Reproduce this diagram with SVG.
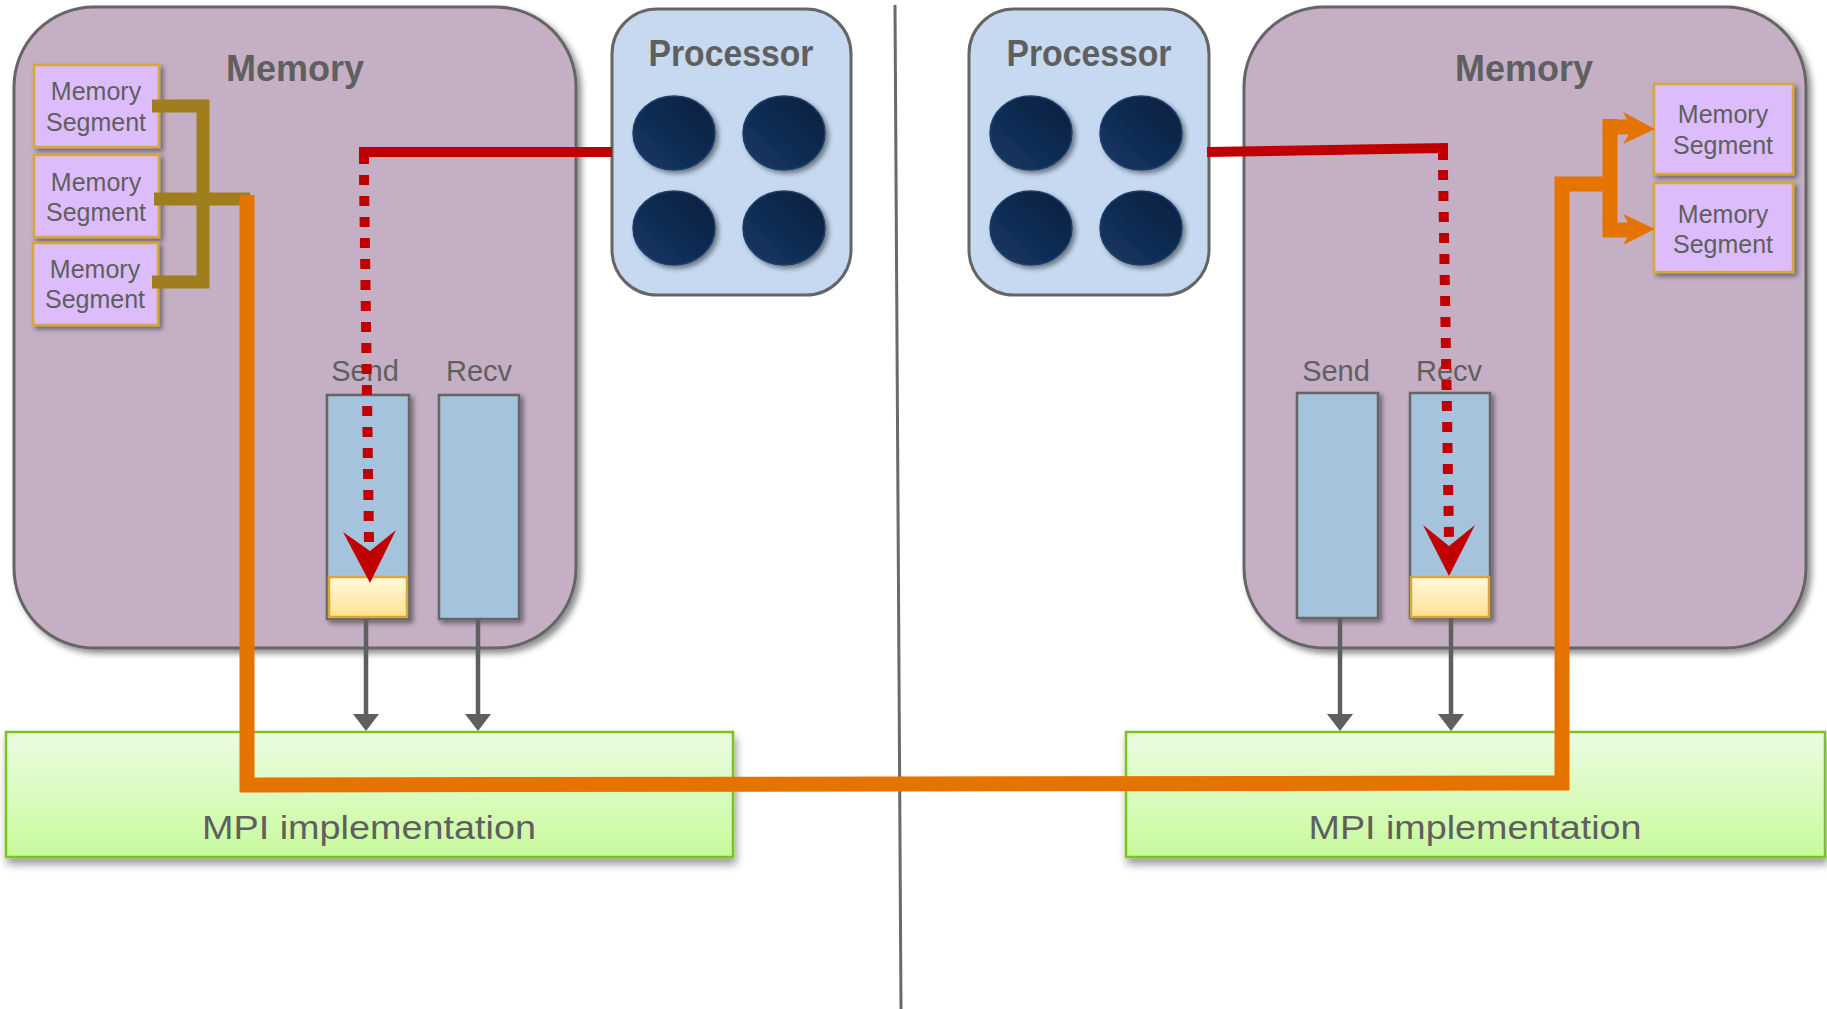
<svg xmlns="http://www.w3.org/2000/svg" width="1827" height="1009" viewBox="0 0 1827 1009">
<style>
.mem{fill:#c4afc4;stroke:#656565;stroke-width:3}
.proc{fill:#c6d9f0;stroke:#656565;stroke-width:3}
.seg{fill:#dcbcfb;stroke:#d6a838;stroke-width:2.5}
.buf{fill:#a6c3dd;stroke:#656565;stroke-width:2.5}
.yel{fill:url(#gy);stroke:#d6a838;stroke-width:2.5}
.mpi{fill:url(#gm);stroke:#7cc222;stroke-width:2.5}
.core{fill:url(#gc);stroke:#1e3e6c;stroke-width:1.5}
.t{font-family:"Liberation Sans",Arial,sans-serif;fill:#5f5f5f;text-anchor:middle}
.tb{font-family:"Liberation Sans",Arial,sans-serif;fill:#5f5f5f;text-anchor:middle;font-weight:bold;font-size:36px}
.ts{font-size:25px}
.tl{font-size:29px}
.tm{font-size:34px}
.gray{stroke:#5f5f5f;stroke-width:4.5;fill:none}
.grayhead{fill:#5f5f5f}
.red{stroke:#c00000;stroke-width:10;fill:none}
.reddot{stroke:#c00000;stroke-width:10;fill:none;stroke-dasharray:10 11}
.redhead{fill:#c00000}
.orange{stroke:#e57300;stroke-width:15;fill:none;stroke-linejoin:miter}
.orangehead{fill:#e57300}
.gold{stroke:#a07e1e;stroke-width:13;fill:none;stroke-linejoin:miter}
</style>
<defs>
<filter id="sh" x="-10%" y="-10%" width="130%" height="130%">
<feDropShadow dx="4" dy="4" stdDeviation="3" flood-color="#000" flood-opacity="0.45"/>
</filter>
<filter id="shs" x="-10%" y="-10%" width="130%" height="130%">
<feDropShadow dx="3" dy="3" stdDeviation="2.5" flood-color="#000" flood-opacity="0.45"/>
</filter>
<filter id="shm" x="-5%" y="-10%" width="110%" height="140%">
<feDropShadow dx="2" dy="6" stdDeviation="4" flood-color="#000" flood-opacity="0.4"/>
</filter>
<linearGradient id="gy" x1="0" y1="0" x2="0" y2="1">
<stop offset="0" stop-color="#fff8dc"/>
<stop offset="1" stop-color="#ffe390"/>
</linearGradient>
<linearGradient id="gm" x1="0" y1="0" x2="0" y2="1">
<stop offset="0" stop-color="#ebfce1"/>
<stop offset="1" stop-color="#c8fa9c"/>
</linearGradient>
<linearGradient id="gc" x1="0" y1="1" x2="1" y2="0">
<stop offset="0" stop-color="#153866"/>
<stop offset="1" stop-color="#0a1f3d"/>
</linearGradient>
</defs>
<rect width="1827" height="1009" fill="#ffffff"/>

<g id="divider"><line x1="895" y1="5" x2="901" y2="1009" stroke="#6a6a6a" stroke-width="3"/></g>

<g id="left-memory">
<rect class="mem" x="14" y="7" width="562" height="641" rx="80" ry="80" filter="url(#sh)"/>
<text class="tb" x="295" y="81">Memory</text>
</g>

<g id="right-memory">
<rect class="mem" x="1244" y="7" width="562" height="641" rx="80" ry="80" filter="url(#sh)"/>
<text class="tb" x="1524" y="81">Memory</text>
</g>

<g id="left-processor">
<rect class="proc" x="612" y="9" width="239" height="286" rx="45" ry="45"/>
<text class="tb" x="731" y="66" textLength="165" lengthAdjust="spacingAndGlyphs">Processor</text>
<g filter="url(#shs)">
<ellipse class="core" cx="674" cy="133" rx="41" ry="37"/>
<ellipse class="core" cx="784" cy="133" rx="41" ry="37"/>
<ellipse class="core" cx="674" cy="228" rx="41" ry="37"/>
<ellipse class="core" cx="784" cy="228" rx="41" ry="37"/>
</g>
</g>

<g id="right-processor">
<rect class="proc" x="969" y="9" width="240" height="286" rx="45" ry="45"/>
<text class="tb" x="1089" y="66" textLength="165" lengthAdjust="spacingAndGlyphs">Processor</text>
<g filter="url(#shs)">
<ellipse class="core" cx="1031" cy="133" rx="41" ry="37"/>
<ellipse class="core" cx="1141" cy="133" rx="41" ry="37"/>
<ellipse class="core" cx="1031" cy="228" rx="41" ry="37"/>
<ellipse class="core" cx="1141" cy="228" rx="41" ry="37"/>
</g>
</g>

<g id="left-segment-1">
<rect class="seg" x="34" y="65" width="125" height="82" filter="url(#shs)"/>
<text class="t ts" x="96" y="100">Memory</text>
<text class="t ts" x="96" y="131">Segment</text>
</g>
<g id="left-segment-2">
<rect class="seg" x="34" y="155" width="125" height="82" filter="url(#shs)"/>
<text class="t ts" x="96" y="191">Memory</text>
<text class="t ts" x="96" y="221">Segment</text>
</g>
<g id="left-segment-3">
<rect class="seg" x="33" y="243" width="125" height="82" filter="url(#shs)"/>
<text class="t ts" x="95" y="278">Memory</text>
<text class="t ts" x="95" y="308">Segment</text>
</g>

<g id="right-segment-1">
<rect class="seg" x="1654" y="84" width="139" height="90" filter="url(#shs)"/>
<text class="t ts" x="1723" y="123">Memory</text>
<text class="t ts" x="1723" y="154">Segment</text>
</g>
<g id="right-segment-2">
<rect class="seg" x="1654" y="183" width="139" height="89" filter="url(#shs)"/>
<text class="t ts" x="1723" y="223">Memory</text>
<text class="t ts" x="1723" y="253">Segment</text>
</g>

<g id="left-send">
<text class="t tl" x="365" y="381">Send</text>
<rect class="buf" x="327" y="395" width="82" height="224" filter="url(#shs)"/>
<rect class="yel" x="329" y="577" width="78" height="40"/>
</g>
<g id="left-recv">
<text class="t tl" x="479" y="381">Recv</text>
<rect class="buf" x="439" y="395" width="80" height="224" filter="url(#shs)"/>
</g>

<g id="right-send">
<text class="t tl" x="1336" y="381">Send</text>
<rect class="buf" x="1297" y="393" width="81" height="225" filter="url(#shs)"/>
</g>
<g id="right-recv">
<text class="t tl" x="1449" y="381">Recv</text>
<rect class="buf" x="1410" y="393" width="80" height="225" filter="url(#shs)"/>
<rect class="yel" x="1411" y="577" width="78" height="40"/>
</g>

<g id="left-mpi">
<rect class="mpi" x="6" y="732" width="727" height="125" filter="url(#shm)"/>
<text class="t tm" x="369" y="839" textLength="334" lengthAdjust="spacingAndGlyphs">MPI implementation</text>
</g>
<g id="right-mpi">
<rect class="mpi" x="1126" y="732" width="699" height="125" filter="url(#shm)"/>
<text class="t tm" x="1475" y="839" textLength="333" lengthAdjust="spacingAndGlyphs">MPI implementation</text>
</g>

<g id="connectors">
<!-- gray buffer to MPI arrows -->
<line class="gray" x1="366" y1="619" x2="366" y2="716"/>
<polygon class="grayhead" points="353,714 379,714 366,731"/>
<line class="gray" x1="478" y1="619" x2="478" y2="716"/>
<polygon class="grayhead" points="465,714 491,714 478,731"/>
<line class="gray" x1="1340" y1="618" x2="1340" y2="716"/>
<polygon class="grayhead" points="1327,714 1353,714 1340,731"/>
<line class="gray" x1="1451" y1="618" x2="1451" y2="716"/>
<polygon class="grayhead" points="1438,714 1464,714 1451,731"/>

<!-- gold bracket -->
<path class="gold" d="M152,106 L203,106 L203,282 L152,282"/>
<line class="gold" x1="154" y1="199" x2="250" y2="199"/>

<!-- orange transfer path -->
<path class="orange" d="M247,195 L247,785 L1562,783 L1562,184 L1610,184"/>
<path class="orange" d="M1610,119 L1610,237"/>
<line class="orange" x1="1603" y1="127" x2="1634" y2="127"/>
<line class="orange" x1="1603" y1="230" x2="1634" y2="230"/>
<polygon class="orangehead" points="1623,112 1655,129 1623,144 1632,129"/>
<polygon class="orangehead" points="1623,214 1655,229 1623,245 1632,229"/>

<!-- red processor to buffer -->
<path class="red" d="M612,152 L364,152 L364,164"/>
<line class="reddot" x1="364" y1="175" x2="369" y2="543"/>
<polygon class="redhead" points="343,532 370,583 396,530 370,551"/>
<path class="red" d="M1207,152 L1443,148 L1443,160"/>
<line class="reddot" x1="1443" y1="170" x2="1449" y2="538"/>
<polygon class="redhead" points="1423,525 1449,576 1475,525 1449,546"/>
</g>
</svg>
